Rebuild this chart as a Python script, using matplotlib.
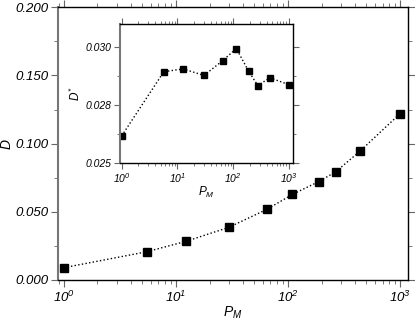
import math

import matplotlib
matplotlib.use("Agg")
import matplotlib.pyplot as plt
from matplotlib.ticker import FixedLocator, FuncFormatter, LogLocator, NullFormatter

plt.rcParams["font.family"] = ["Liberation Sans", "DejaVu Sans"]
plt.rcParams["font.style"] = "italic"
plt.rcParams["mathtext.fontset"] = "custom"
plt.rcParams["mathtext.rm"] = "Liberation Sans:italic"
plt.rcParams["mathtext.it"] = "Liberation Sans:italic"

# main panel: D vs P_M
pm_main = [1, 5.5, 12.4, 29.7, 65, 110, 188, 268, 442, 1000]
d_main = [0.0090, 0.0207, 0.0284, 0.0386, 0.0518, 0.0628, 0.0721, 0.0794, 0.0946, 0.1219]

# inset: D* vs P_M
pm_inset = [1, 5.7, 12.7, 30, 65, 114, 190, 278, 455, 1000]
d_inset = [0.02617, 0.02894, 0.02906, 0.02878, 0.02942, 0.02994, 0.02896, 0.02834, 0.02868, 0.02838]

inset_yticks = [0.025, 0.0275, 0.030]
inset_ylabels = ["0.025", "0.028", "0.030"]


def pow10(v, _pos):
    return r"$10^{%d}$" % round(math.log10(v))


def style(ax, size, major, minor):
    ax.set_xscale("log")
    ax.xaxis.set_major_locator(LogLocator(base=10))
    ax.xaxis.set_minor_locator(LogLocator(base=10, subs=range(2, 10)))
    ax.xaxis.set_major_formatter(FuncFormatter(pow10))
    ax.xaxis.set_minor_formatter(NullFormatter())
    ax.tick_params(which="both", direction="out", top=True, right=True,
                   color="#666", labelsize=size, pad=2)
    ax.tick_params(which="major", length=major)
    ax.tick_params(which="minor", length=minor)
    for s in ax.spines.values():
        s.set_linewidth(1.0)
    ax.spines["left"].set_color("#777")
    ax.spines["left"].set_linewidth(1.5)


fig = plt.figure(figsize=(4.15, 3.25), dpi=100)
ax = fig.add_axes([0.1398, 0.1385, 0.8427, 0.839])
ax.plot(pm_main, d_main, ls=":", color="black", lw=1.0,
        marker="s", ms=6, mfc="black", mec="black")
style(ax, 9.5, 5, 3)
ax.set_xlim(10 ** -0.051, 10 ** 3.07)
ax.set_ylim(0, 0.2)
ax.set_yticks([0, 0.05, 0.1, 0.15, 0.2])
ax.yaxis.set_minor_locator(FixedLocator([0.025, 0.075, 0.125, 0.175]))
ax.yaxis.set_major_formatter(FuncFormatter(lambda v, p: "%.3f" % v))
ax.set_xlabel(r"$P_M$", fontsize=10, labelpad=0)
ax.set_ylabel("D", fontsize=10, labelpad=1)

ins = fig.add_axes([0.2892, 0.4985, 0.4176, 0.4277])
ins.plot(pm_inset, d_inset, ls=":", color="black", lw=1.0,
         marker="s", ms=4.5, mfc="black", mec="black")
style(ins, 7.5, 4, 2.5)
ins.set_xlim(10 ** -0.03, 10 ** 3.08)
ins.set_ylim(0.025, 0.0310)
ins.yaxis.set_major_locator(FixedLocator(inset_yticks))
ins.set_yticklabels(inset_ylabels)
ins.yaxis.set_minor_locator(FixedLocator([0.02625, 0.02875]))
ins.set_xlabel(r"$P_M$", fontsize=8.5, labelpad=0)
ins.set_ylabel(r"$D^{*}$", fontsize=8.5, labelpad=2)

fig.savefig("out.png", dpi=100)
